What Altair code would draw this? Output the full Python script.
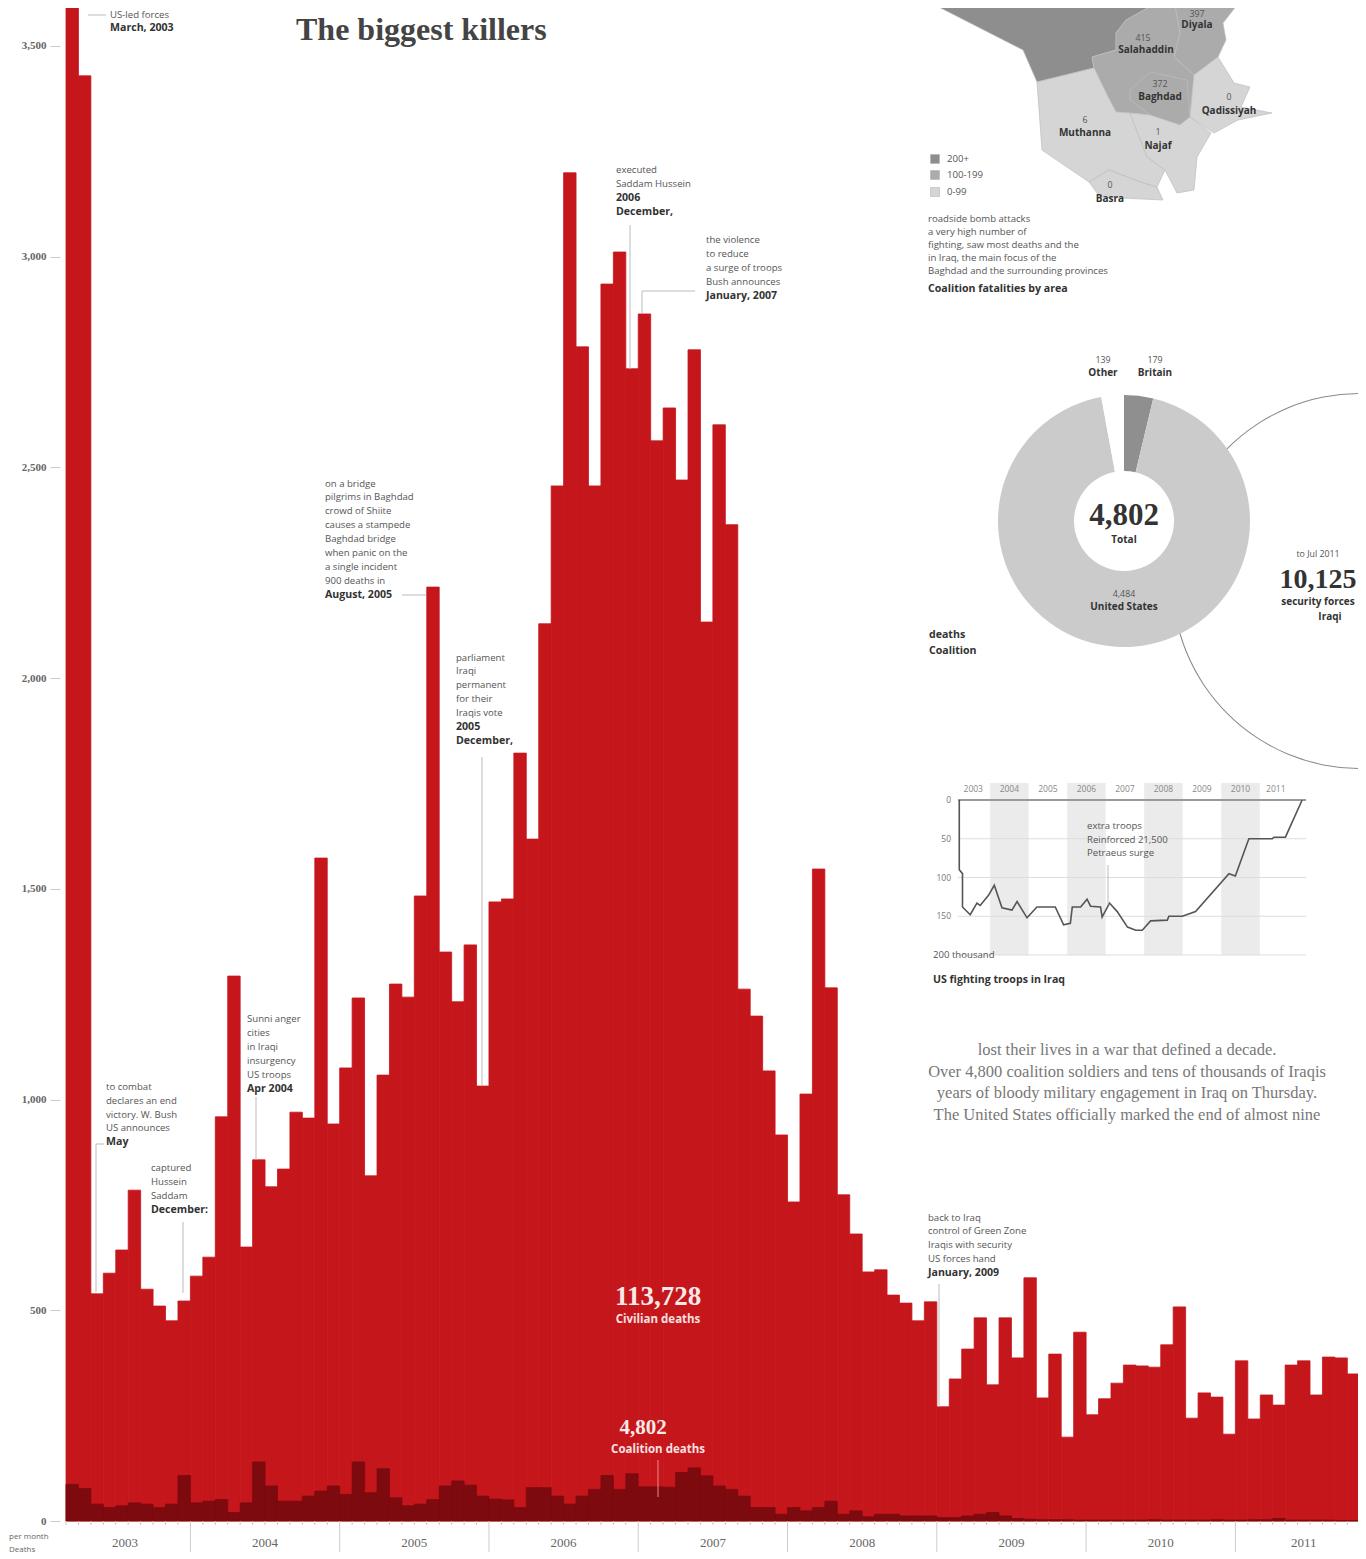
import altair as alt
import pandas as pd

# ---------- data ----------
all_deaths = [3977,3429,539,588,643,785,550,510,475,522,581,626,959,1293,650,857,793,835,970,956,
              1573,942,1075,1241,819,1058,1274,1243,1483,2216,1350,1232,1367,1032,1469,1476,1822,1618,2129,2456,
              3199,2786,2456,2935,3011,2734,2864,2563,2641,2470,2779,2133,2601,2364,1262,1198,1068,916,757,1013,
              1547,1265,774,681,591,596,536,517,475,520,271,337,408,482,323,482,387,577,292,396,
              199,448,252,290,327,370,368,365,418,508,244,304,294,206,380,242,299,275,370,380,
              299,389,387,349,128]
coalition = [87,77,40,32,36,43,40,32,40,108,43,47,51,20,43,140,83,47,47,59,
             71,83,63,140,67,124,55,36,40,51,83,95,85,59,52,50,32,79,79,59,
             40,59,75,108,75,112,81,81,80,115,126,107,83,75,59,32,32,16,32,24,
             32,47,16,24,10,16,16,12,12,12,8,8,12,16,20,12,6,4,3,3,
             3,2,2,2,2,2,2,3,2,2,2,2,3,2,2,3,3,6,2,2,
             2,2,1,1,1]
months = list(range(len(all_deaths)))
year_starts = [10, 22, 34, 46, 58, 70, 82, 94]
year_labels = ["2003","2004","2005","2006","2007","2008","2009","2010","2011"]
year_mid = [4.75, 16, 28, 40, 52, 64, 76, 88, 99.5]
y_ticks = [0, 500, 1000, 1500, 2000, 2500, 3000, 3500]

donut_names = ["Britain", "United States", "Other"]
donut_values = [179, 4484, 139]

troop_month = [0.4,0.4,1.4,1.4,3.8,5.9,6.9,9.5,11.3,13.7,16.8,18.4,21.5,24.6,30.3,32.9,35,35.6,38.2,40.2,41.3,
               44.4,44.9,47.2,49.6,52.8,55.4,57.4,60,65.2,65.7,69.9,74,84.4,86.4,90.6,97.9,98.4,102,107.2]
troop_level = [0,90,95,138,148,133,136,123,110,139,142,131,152,138,138,161,159,138,138,128,137,
               138,151,133,144,164,168,168,156,155,150,150,144,95,98,50,50,48,48,0]
troop_bands = [(10,22),(34,46),(58,70),(82,94)]
troop_grid = [50,100,150,200]
troop_years = ["2003","2004","2005","2006","2007","2008","2009","2010","2011"]

map_regions = [
    ("dark", [[925,-40],[925,0],[1023,50],[1037,82],[1094,68],[1092,57],[1116,50],[1116,33],[1126,20],[1162,0],[1162,-40]]),
    ("mid",  [[1174,-40],[1174,0],[1180,33],[1174,57],[1194,75],[1218,57],[1226,40],[1223,23],[1241,0],[1241,-40]]),
    ("mid",  [[1092,57],[1116,50],[1116,33],[1126,20],[1162,0],[1174,0],[1180,33],[1174,57],[1194,75],[1190,117],[1180,125],[1150,115],[1131,113],[1116,112],[1108,97],[1094,68]]),
    ("mid",  [[1130,90],[1150,72],[1187,80],[1190,117],[1180,125],[1150,115],[1130,100]]),
    ("light",[[1037,82],[1094,68],[1108,97],[1116,112],[1130,113],[1147,157],[1165,170],[1157,187],[1143,183],[1109,170],[1089,182],[1042,150]]),
    ("light",[[1194,75],[1218,57],[1234,83],[1250,87],[1241,107],[1272,113],[1238,120],[1214,133],[1190,117]]),
    ("light",[[1130,113],[1150,115],[1180,125],[1190,117],[1211,133],[1197,157],[1194,190],[1177,193],[1165,170],[1147,157]]),
    ("light",[[1089,182],[1109,170],[1143,183],[1157,187],[1163,200],[1100,197]]),
]

S, B, F = "Open Sans", "Liberation Serif", "#555555"
texts = [
 (110,28,"March, 2003","b"),(110,15,"US-led forces","n"),
 (106,1142,"May","b"),(106,1128,"US announces","n"),(106,1115,"victory. W. Bush","n"),(106,1101,"declares an end","n"),(106,1087,"to combat","n"),
 (151,1210,"December:","b"),(151,1196,"Saddam","n"),(151,1182,"Hussein","n"),(151,1168,"captured","n"),
 (247,1089,"Apr 2004","b"),(247,1075,"US troops","n"),(247,1061,"insurgency","n"),(247,1047,"in Iraqi","n"),(247,1033,"cities","n"),(247,1019,"Sunni anger","n"),
 (325,595,"August, 2005","b"),(325,581,"900 deaths in","n"),(325,567,"a single incident","n"),(325,553,"when panic on the","n"),(325,539,"Baghdad bridge","n"),
 (325,525,"causes a stampede","n"),(325,511,"crowd of Shiite","n"),(325,497,"pilgrims in Baghdad","n"),(325,484,"on a bridge","n"),
 (456,741,"December,","b"),(456,727,"2005","b"),(456,713,"Iraqis vote","n"),(456,699,"for their","n"),(456,685,"permanent","n"),(456,671,"Iraqi","n"),(456,658,"parliament","n"),
 (616,212,"December,","b"),(616,198,"2006","b"),(616,184,"Saddam Hussein","n"),(616,170,"executed","n"),
 (706,296,"January, 2007","b"),(706,282,"Bush announces","n"),(706,268,"a surge of troops","n"),(706,254,"to reduce","n"),(706,240,"the violence","n"),
 (928,1273,"January, 2009","b"),(928,1259,"US forces hand","n"),(928,1245,"Iraqis with security","n"),(928,1231,"control of Green Zone","n"),(928,1218,"back to Iraq","n"),
 (928,289,"Coalition fatalities by area","b"),(928,271,"Baghdad and the surrounding provinces","n"),(928,258,"in Iraq, the main focus of the","n"),
 (928,245,"fighting, saw most deaths and the","n"),(928,232,"a very high number of","n"),(928,219,"roadside bomb attacks","n"),
 (947,159,"200+","n"),(947,175,"100-199","n"),(947,192,"0-99","n"),
 (929,651,"Coalition","b"),(929,635,"deaths","b"),
 (933,980,"US fighting troops in Iraq","b"),(933,955,"200 thousand","n"),
 (1087,853,"Petraeus surge","n"),(1087,840,"Reinforced 21,500","n"),(1087,826,"extra troops","n"),
]
centered = [
 (1197,25,"Diyala","b"),(1197,14,"397","n"),(1146,50,"Salahaddin","b"),(1143,38,"415","n"),(1160,97,"Baghdad","b"),(1160,84,"372","n"),
 (1229,111,"Qadissiyah","b"),(1229,97,"0","n"),(1085,133,"Muthanna","b"),(1085,120,"6","n"),(1158,146,"Najaf","b"),(1158,132,"1","n"),(1110,199,"Basra","b"),(1110,185,"0","n"),
 (1155,373,"Britain","b"),(1155,360,"179","n"),(1103,373,"Other","b"),(1103,360,"139","n"),
 (1124,540,"Total","b"),(1124,607,"United States","b"),(1124,594,"4,484","n"),
 (1330,617,"Iraqi","b"),(1318,602,"security forces","b"),(1318,554,"to Jul 2011","n"),
]
red_labels = [(658,1320,"Civilian deaths"),(658,1450,"Coalition deaths")]
para = [(1127,1115,"The United States officially marked the end of almost nine"),
        (1127,1093,"years of bloody military engagement in Iraq on Thursday."),
        (1127,1072,"Over 4,800 coalition soldiers and tens of thousands of Iraqis"),
        (1127,1050,"lost their lives in a war that defined a decade.")]
leaders = [(88,15,106,15),(96,1144,96,1292),(96,1144,104,1144),(183,1222,183,1293),(256,1097,256,1160),(402,595,426,595),
           (482,757,482,1085),(630,225,630,369),(642,291,695,291),(642,291,642,314),(939,1284,939,1407),(1108,865,1108,905)]

# ---------- helpers ----------
OX, OY = 66, 8
def tdf(rows):
    return pd.DataFrame([{"px": r[0]-OX, "py": r[1]-OY, "t": r[2]} for r in rows])
def text_layer(rows, size, weight="normal", color=F, font=S, align="left"):
    return alt.Chart(tdf(rows)).mark_text(fontSize=size, fontWeight=weight, color=color, font=font,
                                         align=align, baseline="middle").encode(
        x=alt.X("px:Q", scale=None, axis=None), y=alt.Y("py:Q", scale=None, axis=None), text="t:N")

xs = alt.Scale(domain=[0, 104.5], range=[0, 1300], clamp=True)
ys = alt.Scale(domain=[0, 3590], range=[1513, 0], clamp=True)
ins_x = alt.Scale(domain=[0, 108], range=[958-OX, 958-OX+346.7])
ins_y = alt.Scale(domain=[0, 200], range=[800-OY, 955-OY])

df = pd.DataFrame({"m": months, "m2": [m+1 for m in months], "all": all_deaths, "co": coalition})
RED, DARK = "#c5161c", "#7c0a0e"

lab_expr = "datum.value >= 1000 ? floor(datum.value/1000) + ',' + (datum.value % 1000 == 0 ? '000' : datum.value % 1000) : datum.value + ''"
bars = alt.Chart(df).mark_rect(color=RED, stroke=RED, strokeWidth=0.8).encode(
    x=alt.X("m:Q", scale=xs, axis=None), x2="m2:Q",
    y=alt.Y("all:Q", scale=ys, axis=alt.Axis(values=y_ticks, title=None, labelExpr=lab_expr, grid=False, domain=False, offset=6,
             tickSize=10, tickColor="#cccccc", labelFontSize=11, labelColor="#666666", labelFont=B, labelFontWeight="bold", labelPadding=4)),
    y2=alt.datum(0))
dark = alt.Chart(df).mark_rect(color=DARK, stroke=DARK, strokeWidth=0.8).encode(
    x=alt.X("m:Q", scale=xs, axis=None), x2="m2:Q", y=alt.Y("co:Q", scale=ys, axis=None), y2=alt.datum(0))

mticks = alt.Chart(pd.DataFrame({"m": months})).mark_rule(color="#e9b9b9", strokeWidth=1).encode(
    x=alt.X("m:Q", scale=xs, axis=None), y=alt.value(1513), y2=alt.value(1517))
yrules = alt.Chart(pd.DataFrame({"m": year_starts})).mark_rule(color="#cccccc", strokeWidth=1).encode(
    x=alt.X("m:Q", scale=xs, axis=None), y=alt.value(1517), y2=alt.value(1544))
yrtext = alt.Chart(pd.DataFrame({"m": year_mid, "t": year_labels})).mark_text(
    fontSize=13, font=B, color="#666666").encode(
    x=alt.X("m:Q", scale=xs, axis=None), y=alt.value(1535), text="t:N")

lead = alt.Chart(pd.DataFrame([{"a": a-OX, "b": b-OY, "c": c-OX, "d": d-OY} for a, b, c, d in leaders])).mark_rule(
    color="#bbbbbb", strokeWidth=1).encode(
    x=alt.X("a:Q", scale=None, axis=None), y=alt.Y("b:Q", scale=None, axis=None), x2="c:Q", y2="d:Q")
pink = alt.Chart(pd.DataFrame([{"a": 658-OX, "b": 1460-OY, "d": 1497-OY}])).mark_rule(color="#e88a8a", strokeWidth=1).encode(
    x=alt.X("a:Q", scale=None, axis=None), y=alt.Y("b:Q", scale=None, axis=None), y2="d:Q")

# map
features = [{"type": "Feature", "properties": {"cls": c}, "geometry": {"type": "Polygon", "coordinates": [p + [p[0]]]}}
            for c, p in map_regions]
geo = alt.Chart(alt.Data(values=features)).mark_geoshape(stroke="#bdbdbd", strokeWidth=0.7).encode(
    color=alt.Color("properties.cls:N", legend=None,
                    scale=alt.Scale(domain=["dark", "mid", "light"], range=["#8e8e8e", "#ababab", "#d5d5d5"]))
).project(type="identity", scale=1, translate=[-OX, -OY])
leg = alt.Chart(pd.DataFrame({"px": [935-OX]*3, "py": [159-OY, 175-OY, 192-OY], "c": ["#8e8e8e", "#ababab", "#d5d5d5"]})).mark_square(
    size=80, opacity=1, stroke="#aaaaaa", strokeWidth=0.5).encode(
    x=alt.X("px:Q", scale=None, axis=None), y=alt.Y("py:Q", scale=None, axis=None), fill=alt.Fill("c:N", scale=None, legend=None))

# donut + big ring
ring = alt.Chart(pd.DataFrame({"a": [0]})).mark_arc(radius=188, radius2=187, theta=0, theta2=6.2832, color="#8a8a8a").encode(
    x=alt.value(1360-OX), y=alt.value(581-OY))
ddf = pd.DataFrame({"n": donut_names, "v": donut_values, "o": [0, 1, 2]})
donut = alt.Chart(ddf).mark_arc(radius=126, radius2=50).encode(
    theta=alt.Theta("v:Q", stack=True), order=alt.Order("o:Q"),
    color=alt.Color("n:N", legend=None, scale=alt.Scale(domain=donut_names, range=["#8f8f8f", "#cbcbcb", "#ffffff"])),
    x=alt.value(1124-OX), y=alt.value(521-OY))

# troops inset
bdf = pd.DataFrame({"a": [b[0] for b in troop_bands], "b": [b[1] for b in troop_bands]})
bands = alt.Chart(bdf).mark_rect(color="#ebebeb").encode(
    x=alt.X("a:Q", scale=ins_x, axis=None), x2="b:Q",
    y=alt.Y("top:Q", scale=ins_y, axis=None), y2=alt.datum(200)).transform_calculate(top="-22")
grid = alt.Chart(pd.DataFrame({"g": troop_grid})).mark_rule(color="#dddddd").encode(
    y=alt.Y("g:Q", scale=ins_y, axis=None), x=alt.value(958-OX), x2=alt.value(1306-OX))
top = alt.Chart(pd.DataFrame({"g": [0]})).mark_rule(color="#999999", strokeWidth=2).encode(
    y=alt.Y("g:Q", scale=ins_y, axis=None), x=alt.value(958-OX), x2=alt.value(1306-OX))
line = alt.Chart(pd.DataFrame({"m": troop_month, "v": troop_level, "i": range(len(troop_level))})).mark_line(
    color="#555555", strokeWidth=1.6).encode(
    x=alt.X("m:Q", scale=ins_x, axis=None), y=alt.Y("v:Q", scale=ins_y, axis=None), order="i:Q")
ylab = alt.Chart(pd.DataFrame({"g": [0, 50, 100, 150], "t": ["0", "50", "100", "150"]})).mark_text(
    fontSize=8.5, color="#777777", font=S, align="right", baseline="middle").encode(
    y=alt.Y("g:Q", scale=ins_y, axis=None), x=alt.value(951-OX), text="t:N")
ymid = alt.Chart(pd.DataFrame({"m": [4.75, 16, 28, 40, 52, 64, 76, 88, 99], "t": troop_years})).mark_text(
    fontSize=8.5, color="#888888", font=S).encode(
    x=alt.X("m:Q", scale=ins_x, axis=None), y=alt.value(789-OY), text="t:N")

normal = [r for r in texts if r[3] == "n"]
boldt = [r for r in texts if r[3] == "b"]
cn = [r for r in centered if r[3] == "n"]
cb = [r for r in centered if r[3] == "b"]

layers = [
    ring, bands, grid, top, line, ylab, ymid, geo, leg, donut,
    bars, dark, mticks, yrules, yrtext, lead, pink,
    text_layer(normal, 9.6),
    text_layer(boldt, 10.6, "bold", "#333333"),
    text_layer(cn, 8.8, align="center"),
    text_layer(cb, 10, "bold", "#333333", align="center"),
    text_layer([(296, 30, "The biggest killers")], 32, "bold", "#444444", B),
    text_layer([(1124, 516, "4,802")], 31, "bold", "#333333", B, "center"),
    text_layer([(1318, 580, "10,125")], 28, "bold", "#333333", B, "center"),
    text_layer([(658, 1297, "113,728")], 27, "bold", "#f8e8e8", B, "center"),
    text_layer([(643, 1428, "4,802")], 21, "bold", "#f8e8e8", B, "center"),
    text_layer(red_labels, 11.5, "bold", "#f8e0e0", S, "center"),
    text_layer(para, 16.5, "normal", "#777777", B, "center"),
    text_layer([(9, 1537, "per month"), (9, 1550, "Deaths")], 8, "normal", "#666666", S),
]

chart = alt.layer(*layers).resolve_scale(x="independent", y="independent", color="independent").properties(
    width=1292, height=1513, padding={"left": 58, "top": 0, "right": 0, "bottom": 38},
    autosize=alt.AutoSizeParams(type="none"), background="#ffffff"
).configure_view(stroke=None)

chart.save("out.html", embed_options={"renderer": "svg", "actions": False})
